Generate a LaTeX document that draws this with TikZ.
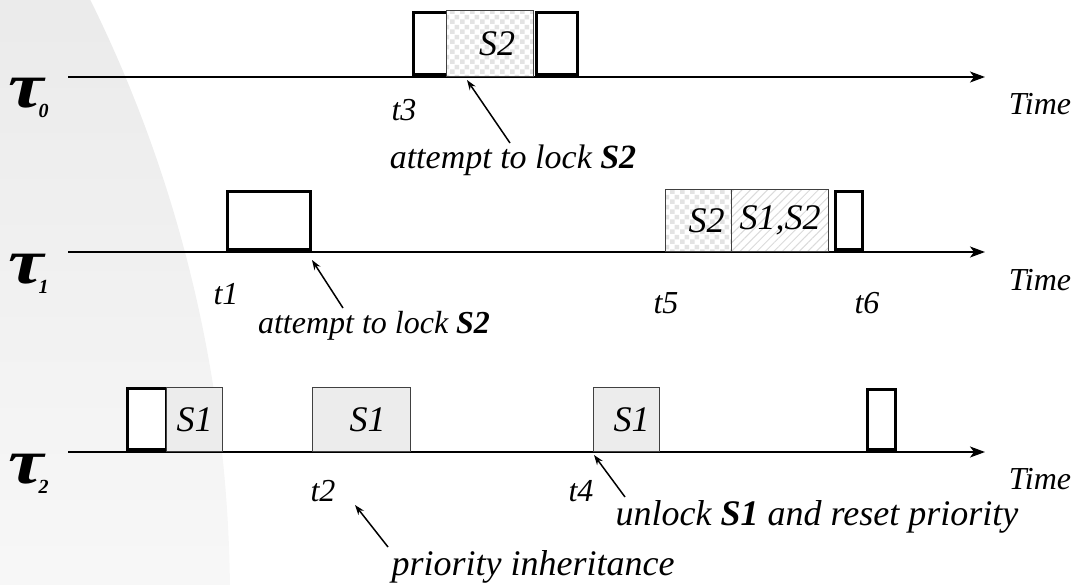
\documentclass[tikz,border=0pt]{standalone}
\usepackage{fontspec}
\setmainfont{Liberation Serif}
\usetikzlibrary{arrows.meta,patterns,patterns.meta}

\newcommand{\taufont}{\fontsize{64}{66}\selectfont\bfseries\itshape}
\newcommand{\tausub}[1]{\raisebox{-10pt}{\fontsize{20}{20}\selectfont\itshape #1}}

% coarse chequer for the S2 sections
\tikzdeclarepattern{
  name=chequer,
  type=uncolored,
  bottom left={(0pt,0pt)},
  top right={(10pt,10pt)},
  tile size={(10pt,10pt)},
  code={
    \fill (0pt,0pt) rectangle (5pt,5pt);
    \fill (5pt,5pt) rectangle (10pt,10pt);
  }
}

\begin{document}
\begin{tikzpicture}[x=1pt, y=-1pt,
  txt/.style={font=\fontsize{36}{38}\selectfont\itshape},
  tick/.style={font=\fontsize{32}{34}\selectfont\itshape},
  axis/.style={line width=1.5pt, -{Stealth[length=15pt,width=11pt,inset=4pt]}},
  pointer/.style={line width=1.5pt, -{Stealth[length=10pt,width=7pt]}},
  job/.style={draw, line width=3pt, fill=white, inner sep=0pt, anchor=south west},
  res/.style={draw=black!75, line width=1pt, inner sep=0pt, anchor=south west,
    font=\fontsize{36}{38}\selectfont\itshape},
  chk/.style={res, preaction={fill=white}, pattern=chequer, pattern color=gray!22},
  hatch/.style={res, preaction={fill=white},
    pattern={Lines[angle=45,distance=6pt,line width=1pt]}, pattern color=gray!28},
  marble/.style={res, fill=gray!15}]
\useasboundingbox (0,0) rectangle (1082,584);

% grey backdrop on the left
\begin{scope}
\clip (-1126,600) circle[radius=1356];
\shade[top color=gray!16, bottom color=gray!6] (0,0) rectangle (260,584);
\end{scope}

% time axes
\coordinate (s0) at (68,77);  \coordinate (e0) at (985,77);
\coordinate (s1) at (68,252); \coordinate (e1) at (985,252);
\coordinate (s2) at (68,452); \coordinate (e2) at (985,452);
\draw[axis] (s0) -- (e0);
\draw[axis] (s1) -- (e1);
\draw[axis] (s2) -- (e2);

\node[anchor=north west, inner sep=0pt] (tau0) at (8,78) {\taufont\scalebox{1.25}[1]{τ}\kern-5pt\tausub{0}};
\node[anchor=north west, inner sep=0pt] (tau1) at (8,254) {\taufont\scalebox{1.25}[1]{τ}\kern-5pt\tausub{1}};
\node[anchor=north west, inner sep=0pt] (tau2) at (8,454) {\taufont\scalebox{1.25}[1]{τ}\kern-5pt\tausub{2}};

\node[tick] (time0) at (1040,104) {Time};
\node[tick] (time1) at (1040,280) {Time};
\node[tick] (time2) at (1040,479) {Time};

% task 0
\node[job, minimum width=34, minimum height=62] (j0a) at (411.5,76) {};
\node[chk, minimum width=87, minimum height=66] (c0) at (446,77) {\hspace*{14pt}S2};
\node[job, minimum width=41, minimum height=62] (j0b) at (534.5,76) {};
\node[tick] (t3) at (404,110) {t3};
\node[txt, font=\fontsize{34}{36}\selectfont\itshape] (lock0) at (513,160) {attempt to lock \textbf{S2}};
\coordinate (p0) at (510,143);
\coordinate (q0) at (467,80);
\draw[pointer] (p0) -- (q0);

% task 1
\node[job, minimum width=83, minimum height=58] (j1a) at (225.5,250.5) {};
\node[chk, minimum width=66, minimum height=62, text width=52, align=right] (c1a) at (665,252) {S2};
\node[hatch, minimum width=97, minimum height=62] (c1b) at (731,252) {S1,S2};
\node[job, minimum width=27, minimum height=58] (j1b) at (833.5,250.5) {};
\node[tick] (t1) at (226,294) {t1};
\node[tick] (t5) at (666,303) {t5};
\node[tick] (t6) at (867,303) {t6};
\node[txt, font=\fontsize{32}{34}\selectfont\itshape] (lock1) at (374,326) {attempt to lock \textbf{S2}};
\coordinate (p1) at (343,308);
\coordinate (q1) at (312,260);
\draw[pointer] (p1) -- (q1);

% task 2
\node[job, minimum width=39, minimum height=61] (j2a) at (125.5,450.5) {};
\node[marble, minimum width=56, minimum height=64] (m2a) at (166,452) {S1};
\node[marble, minimum width=98, minimum height=64] (m2b) at (312,452) {\hspace*{12pt}S1};
\node[marble, minimum width=66, minimum height=64] (m2c) at (593,452) {\hspace*{10pt}S1};
\node[job, minimum width=28, minimum height=60] (j2b) at (865.5,450.5) {};
\node[tick] (t2) at (323,491) {t2};
\node[tick] (t4) at (581,491) {t4};
\node[txt] (unlock) at (817,517) {unlock \textbf{S1} and reset priority};
\node[txt] (inherit) at (533,567) {priority inheritance};
\coordinate (p2) at (625,497);
\coordinate (q2) at (594,455);
\draw[pointer] (p2) -- (q2);
\coordinate (p3) at (388,547);
\coordinate (q3) at (355,505);
\draw[pointer] (p3) -- (q3);
\end{tikzpicture}
\end{document}
